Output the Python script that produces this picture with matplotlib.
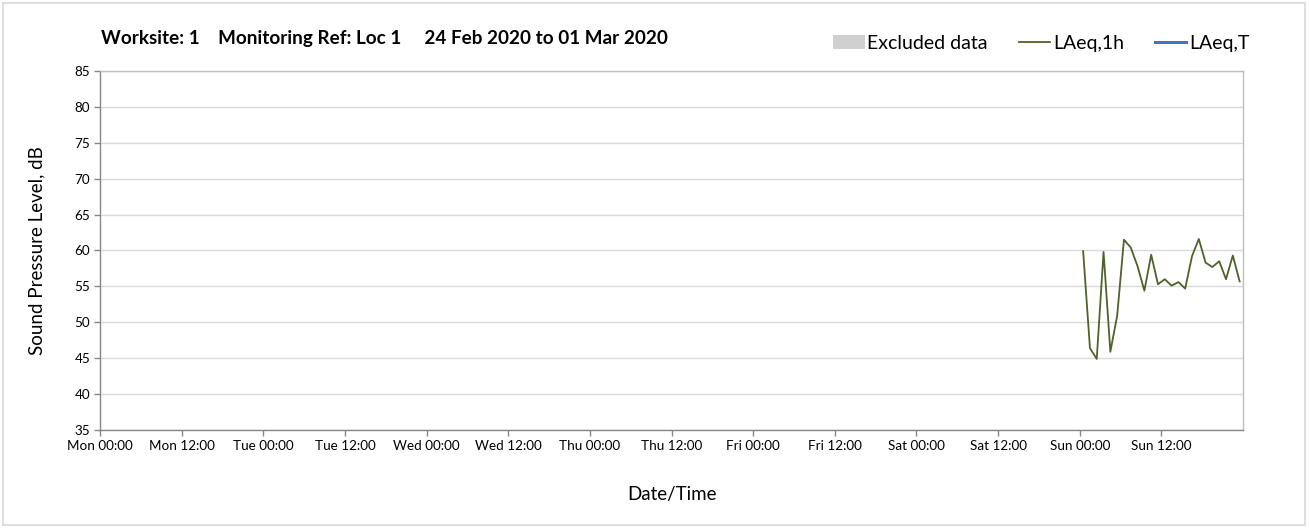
"""Weekly noise monitoring chart: LAeq,1h at Loc 1, 24 Feb - 01 Mar 2020."""
import matplotlib

matplotlib.use("Agg")
import matplotlib.pyplot as plt
from matplotlib.lines import Line2D
from matplotlib.patches import Patch, Rectangle
import numpy as np

# hours since Mon 00:00; hourly LAeq,1h values on Sunday (plotted mid-hour)
hours = np.arange(144.5, 168.0, 1.0)
laeq_1h = [59.9, 46.4, 44.9, 59.8, 45.9, 50.9, 61.5, 60.4, 57.8, 54.4,
           59.4, 55.3, 56.0, 55.1, 55.6, 54.7, 59.2, 61.6, 58.3, 57.7,
           58.5, 56.0, 59.3, 55.7]

days = ["Mon", "Tue", "Wed", "Thu", "Fri", "Sat", "Sun"]
tick_labels = [f"{d} {t}" for d in days for t in ("00:00", "12:00")]
tick_pos = np.arange(0, 168, 12)

plt.rcParams["font.family"] = ["Lato", "DejaVu Sans"]

fig = plt.figure(figsize=(13.09, 5.28), dpi=100)
fig.patches.append(Rectangle((0.002, 0.006), 0.995, 0.988, transform=fig.transFigure,
                             fill=False, edgecolor="#D9D9D9", lw=1.2))
ax = fig.add_axes([0.0764, 0.1856, 0.8732, 0.68])

ax.plot(hours, laeq_1h, color="#4F6228", lw=1.3)

ax.set_xlim(0, 168)
ax.set_ylim(35, 85)
ax.set_yticks(np.arange(35, 86, 5))
ax.set_xticks(tick_pos)
ax.set_xticklabels(tick_labels)
ax.set_xticks(np.arange(24, 168, 24), minor=True)
ax.grid(axis="y", color="#D9D9D9", lw=1.0)
ax.grid(axis="x", which="minor", color="#D9D9D9", lw=1.0)
ax.set_axisbelow(True)
for s in ax.spines.values():
    s.set_color("#BFBFBF")
    s.set_linewidth(1.0)
ax.spines["left"].set_color("#868686")
ax.spines["bottom"].set_color("#868686")
ax.tick_params(axis="both", which="major", labelsize=9.7, color="#868686", length=4, width=1)
ax.tick_params(axis="x", which="minor", length=0)
ax.tick_params(axis="y", pad=3)

ax.set_ylabel("Sound Pressure Level, dB", fontsize=13.5, labelpad=21)
ax.set_xlabel("Date/Time", fontsize=13.5, labelpad=24)

fig.text(0.077, 0.928, "Worksite: 1    Monitoring Ref: Loc 1     24 Feb 2020 to 01 Mar 2020",
         fontsize=13.6, fontweight="bold", va="center")

handles = [Patch(facecolor="#D0D0D0", edgecolor="none"),
           Line2D([], [], color="#4F6228", lw=1.3),
           Line2D([], [], color="#4472C4", lw=2.2)]
fig.legend(handles, ["Excluded data", "LAeq,1h", "LAeq,T"], ncol=3, frameon=False,
           fontsize=14, loc="center right", bbox_to_anchor=(0.968, 0.918),
           handlelength=1.6, handletextpad=0.15, columnspacing=1.6)

fig.savefig("out.png", dpi=100)
